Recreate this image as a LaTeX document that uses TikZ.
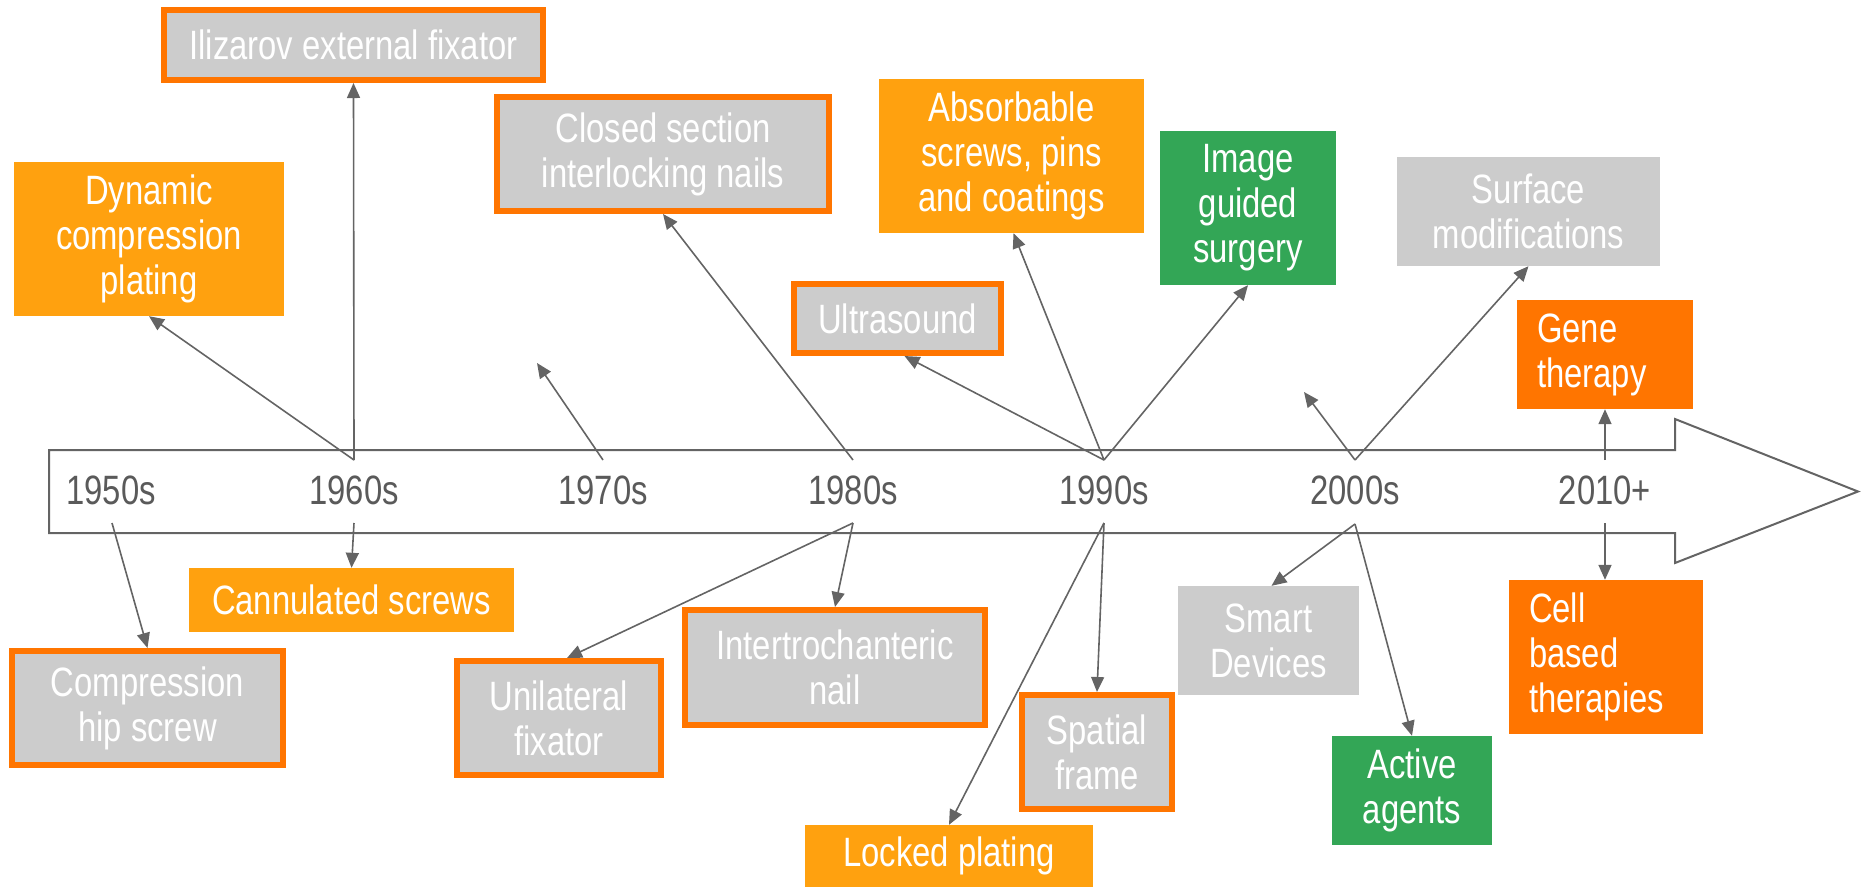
\documentclass[tikz,border=0pt]{standalone}
\usepackage{fontspec}
\setmainfont{Liberation Sans}[FakeStretch=0.8]
\usetikzlibrary{arrows.meta,calc}
\definecolor{amber}{RGB}{255,161,15}
\definecolor{dorange}{RGB}{255,117,0}
\definecolor{boxgray}{RGB}{204,204,204}
\definecolor{grn}{RGB}{51,166,86}
\definecolor{linegray}{RGB}{100,100,100}
\definecolor{labgray}{RGB}{90,90,90}
\begin{document}
\begin{tikzpicture}[x=1pt,y=-1pt,
  every node/.style={font=\fontsize{41}{45}\selectfont, text=white, inner sep=0pt, align=center},
  obox/.style={fill=boxgray, draw=dorange, line width=6pt},
  lbox/.style={fill=dorange, align=left, inner xsep=20pt},
  year/.style={text=labgray},
  arr/.style={draw=linegray, line width=1.6pt, -{Triangle[length=15pt,width=13pt]}},
  bar/.style={draw=linegray, line width=2pt, fill=white}
]
\useasboundingbox (0,0) rectangle (1864,887);
% timeline arrow
\draw[bar] (49,450) -- (1675,450) -- (1675,419) -- (1858,491.5) -- (1675,563) -- (1675,533) -- (49,533) -- cycle;
% year labels
\node[year] (y50) at (111,490) {1950s};
\node[year] (y60) at (354,490) {1960s};
\node[year] (y70) at (603,490) {1970s};
\node[year] (y80) at (853,490) {1980s};
\node[year] (y90) at (1104,490) {1990s};
\node[year] (y00) at (1355,490) {2000s};
\node[year] (y10) at (1605,490) {2010+};
% origins on the timeline
\coordinate (o50d) at (112,523);
\coordinate (o60u) at (354,460);
\coordinate (o60d) at (354,523);
\coordinate (o70u) at (603,460);
\coordinate (o80u) at (853,460);
\coordinate (o80d) at (853,523);
\coordinate (o90u) at (1104,460);
\coordinate (o90d) at (1104,523);
\coordinate (o00u) at (1355,460);
\coordinate (o00d) at (1355,524);
\coordinate (o10u) at (1605,460);
\coordinate (o10d) at (1605,523);
\coordinate (f70) at (537,363);
\coordinate (f00) at (1304,392);
% boxes above
\node[obox, minimum width=379, minimum height=70] (iliz) at (353.5,45) {Ilizarov external fixator};
\node[fill=amber, minimum width=270, minimum height=154] (dyn) at (149,239) {Dynamic\\compression\\plating};
\node[obox, minimum width=332, minimum height=114] (closed) at (663,154) {Closed section\\interlocking nails};
\node[obox, minimum width=207, minimum height=69] (ultra) at (897.5,318.5) {Ultrasound};
\node[fill=amber, minimum width=265, minimum height=154] (absorb) at (1011.5,156) {Absorbable\\screws, pins\\and coatings};
\node[fill=grn, minimum width=176, minimum height=154] (image) at (1248,208) {Image\\guided\\surgery};
\node[fill=boxgray, minimum width=263, minimum height=109] (surf) at (1528.5,211.5) {Surface\\modifications};
\node[lbox, text width=136pt, minimum height=109] (gene) at (1605,354.5) {Gene\\therapy};
% boxes below
\node[fill=amber, minimum width=325, minimum height=64] (cann) at (351.5,600) {Cannulated screws};
\node[obox, minimum width=271, minimum height=114] (comp) at (147.5,708) {Compression\\hip screw};
\node[obox, minimum width=204, minimum height=114] (unil) at (559,718) {Unilateral\\fixator};
\node[obox, minimum width=300, minimum height=115] (inter) at (835,667.5) {Intertrochanteric\\nail};
\node[obox, minimum width=150, minimum height=114] (spat) at (1097,752) {Spatial\\frame};
\node[fill=amber, minimum width=288, minimum height=62] (locked) at (949,856) {Locked plating};
\node[fill=boxgray, minimum width=181, minimum height=109] (smart) at (1268.5,640.5) {Smart\\Devices};
\node[fill=grn, minimum width=160, minimum height=109] (active) at (1412,790.5) {Active\\agents};
\node[lbox, text width=154pt, minimum height=154] (cell) at (1606,657) {Cell\\based\\therapies};
% connectors
\draw[arr] (o50d) -- (comp.north);
\draw[arr] (o60u) -- (iliz.south);
\draw[arr] (o60u) -- (dyn.south);
\draw[arr] (o60d) -- (cann.north);
\draw[arr] (o70u) -- (f70);
\draw[arr] (o80u) -- (closed.south);
\draw[arr] (o80d) -- (inter.north);
\draw[arr] (o80d) -- ([xshift=8pt]unil.north);
\draw[arr] (o90u) -- ([xshift=7pt]ultra.south);
\draw[arr] (o90u) -- ([xshift=2pt]absorb.south);
\draw[arr] (o90u) -- (image.south);
\draw[arr] (o90d) -- (spat.north);
\draw[arr] (o90d) -- (locked.north);
\draw[arr] (o00u) -- (f00);
\draw[arr] (o00u) -- (surf.south);
\draw[arr] (o00d) -- ([xshift=3pt]smart.north);
\draw[arr] (o00d) -- (active.north);
\draw[arr] (o10u) -- (gene.south);
\draw[arr] (o10d) -- ([xshift=-1pt]cell.north);
\end{tikzpicture}
\end{document}
